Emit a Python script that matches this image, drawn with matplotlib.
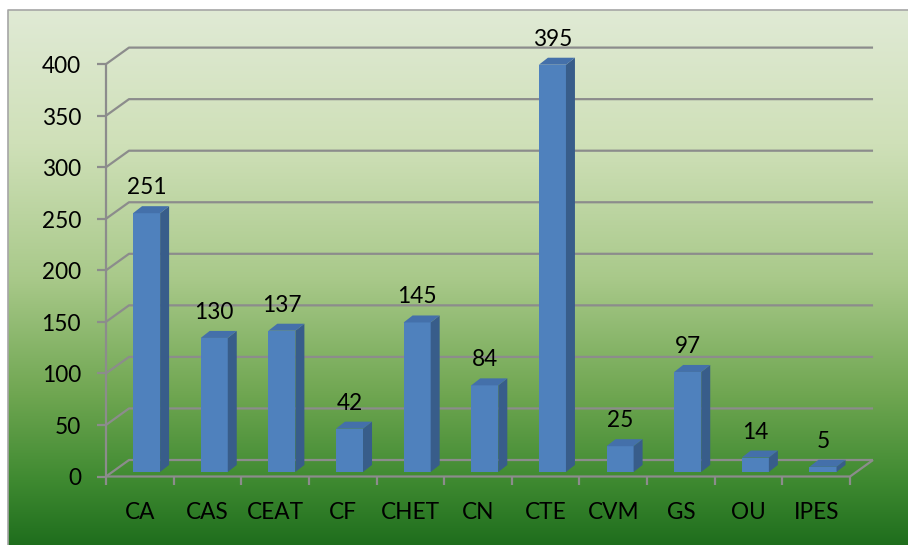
import numpy as np
import matplotlib
matplotlib.use("Agg")
import matplotlib.pyplot as plt
from matplotlib.patches import Polygon
from matplotlib.colors import LinearSegmentedColormap

categories = ["CA", "CAS", "CEAT", "CF", "CHET", "CN", "CTE", "CVM", "GS", "OU", "IPES"]
values = [251, 130, 137, 42, 145, 84, 395, 25, 97, 14, 5]
yticks = [0, 50, 100, 150, 200, 250, 300, 350, 400]

W, H = 908, 545
PX_CAT = 67.64      # pixels per category slot
PX_VAL = 1.031      # pixels per value unit
X0_PX, Y0_PX = 106, 476.5


def px2x(px):
    return (px - X0_PX) / PX_CAT


def px2y(py):
    return (Y0_PX - py) / PX_VAL


# 3d look: depth of the walls and of the bars, in data units
DX, DY = 23 / PX_CAT, 16.5 / PX_VAL
BDX, BDY = 9 / PX_CAT, 7 / PX_VAL
BAR_OFF, BAR_W, BAR_BASE = 0.40, 0.40, 4.4

FRONT, SIDE, TOP = "#4f81bd", "#385d8a", "#4470aa"
GRID = "#8c8c8c"
FONT = ["Lato", "DejaVu Sans"]
FS = 16.3

fig = plt.figure(figsize=(W / 100, H / 100), dpi=100)
ax = fig.add_axes([0, 0, 1, 1])
ax.set_xlim(px2x(0), px2x(W))
ax.set_ylim(px2y(H), px2y(0))
ax.axis("off")

# background gradient (chart area)
grad = LinearSegmentedColormap.from_list("bg", [
    (0.0, "#e0ead5"), (0.25, "#cfe0b8"), (0.5, "#a9c98a"),
    (0.72, "#6fa651"), (0.88, "#3f8a31"), (1.0, "#1f6e1d")])
g = np.linspace(0, 1, 256).reshape(-1, 1)
ax.imshow(g, cmap=grad, aspect="auto", interpolation="bilinear",
          extent=(px2x(8), px2x(W), px2y(H), px2y(10)), zorder=0)
ax.plot([px2x(8), px2x(8), px2x(W)], [px2y(H), px2y(10), px2y(10)],
        color="#a6a6a6", lw=1.2, zorder=1)

n = len(categories)
kw = dict(color=GRID, lw=1.6, solid_capstyle="butt", zorder=2)
# back wall gridlines + diagonals + front axis ticks
for v in yticks:
    ax.plot([0, DX, n + DX], [v, v + DY, v + DY], **kw)
    ax.plot([px2x(97), 0], [v, v], **kw)
ax.plot([0, 0], [0, yticks[-1]], **kw)
# floor
ax.plot([0, n, n + DX], [0, 0, DY], **kw)
for i in range(n + 1):
    ax.plot([i, i], [0, px2y(Y0_PX + 8)], **kw)

# bars
for i, v in enumerate(values):
    l, b = i + BAR_OFF, BAR_BASE
    r, t = l + BAR_W, BAR_BASE + v
    ax.add_patch(Polygon([(l, b), (r, b), (r, t), (l, t)], closed=True,
                         fc=FRONT, ec="none", zorder=3))
    ax.add_patch(Polygon([(r, b), (r + BDX, b + BDY), (r + BDX, t + BDY), (r, t)],
                         closed=True, fc=SIDE, ec="none", zorder=3))
    ax.add_patch(Polygon([(l, t), (r, t), (r + BDX, t + BDY), (l + BDX, t + BDY)],
                         closed=True, fc=TOP, ec="none", zorder=3))
    ax.text(l + BAR_W / 2, t + 18.4, str(v), ha="center", va="baseline",
            fontsize=FS, family=FONT, zorder=4)

# labels
for v in yticks:
    ax.text(px2x(81), v - 8.7, str(v), ha="right", va="baseline",
            fontsize=FS, family=FONT, zorder=4)
for i, c in enumerate(categories):
    ax.text(i + 0.5, px2y(519), c, ha="center", va="baseline",
            fontsize=FS, family=FONT, zorder=4)

fig.savefig("out.png", dpi=100)
